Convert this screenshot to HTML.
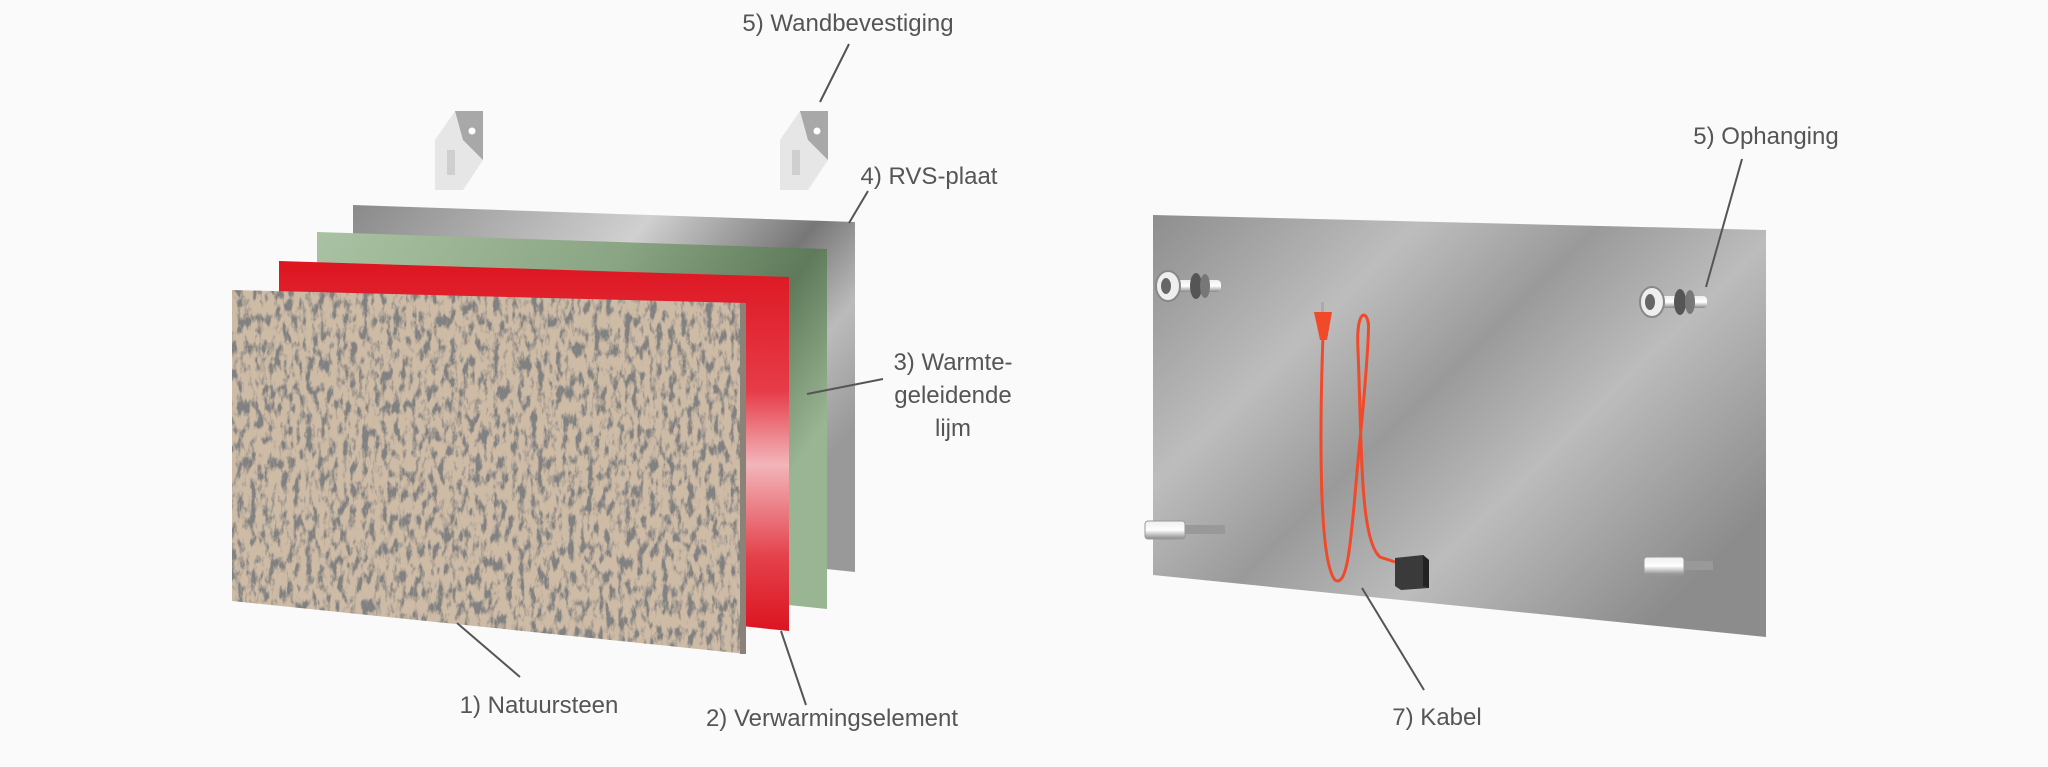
<!DOCTYPE html>
<html><head><meta charset="utf-8"><style>
html,body{margin:0;padding:0;background:#fafafa}
svg{display:block}
text{font-family:"Liberation Sans",sans-serif;font-size:24px;fill:#555}
</style></head><body>
<svg width="2048" height="767" viewBox="0 0 2048 767" xmlns="http://www.w3.org/2000/svg">
<defs>
<linearGradient id="steel" x1="0" y1="0" x2="1" y2="0.6">
<stop offset="0" stop-color="#8a8a8a"/><stop offset="0.45" stop-color="#d0d0d0"/><stop offset="0.7" stop-color="#777"/><stop offset="0.85" stop-color="#bbb"/><stop offset="1" stop-color="#999"/></linearGradient>
<linearGradient id="green" x1="0" y1="0" x2="1" y2="0.5">
<stop offset="0" stop-color="#a9c2a3"/><stop offset="0.5" stop-color="#8aa583"/><stop offset="0.8" stop-color="#5f7a5a"/><stop offset="1" stop-color="#9ab593"/></linearGradient>
<linearGradient id="red" x1="0" y1="0" x2="0" y2="1">
<stop offset="0" stop-color="#dd1520"/><stop offset="0.35" stop-color="#e63c48"/><stop offset="0.55" stop-color="#f2b5ba"/><stop offset="0.8" stop-color="#e4414b"/><stop offset="1" stop-color="#dc1420"/></linearGradient>
<linearGradient id="plate" x1="0" y1="0" x2="1" y2="0.7">
<stop offset="0" stop-color="#8e8e8e"/><stop offset="0.3" stop-color="#bdbdbd"/><stop offset="0.5" stop-color="#9a9a9a"/><stop offset="0.7" stop-color="#bcbcbc"/><stop offset="1" stop-color="#8c8c8c"/></linearGradient>
<filter id="granite" x="0" y="0" width="1" height="1">
<feTurbulence type="fractalNoise" baseFrequency="0.16 0.07" numOctaves="4" seed="4" result="n"/>
<feColorMatrix in="n" type="matrix" values="0 0 0 0 0.22  0 0 0 0 0.22  0 0 0 0 0.22  -4.5 0 0 0 2.45" result="dark"/>
<feComposite in="dark" in2="SourceGraphic" operator="atop"/>
</filter>
<linearGradient id="bolt" x1="0" y1="0" x2="0" y2="1"><stop offset="0" stop-color="#eee"/><stop offset="0.5" stop-color="#fff"/><stop offset="1" stop-color="#888"/></linearGradient>
</defs>

<!-- left stack -->
<polygon points="353,205 855,222 855,572 353,520" fill="url(#steel)"/>
<polygon points="317,232 827,249 827,609 317,556" fill="url(#green)"/>
<polygon points="279,261 789,277 789,631 279,578" fill="url(#red)"/>
<polygon points="232,290 746,303 746,654 232,601" fill="#cdbba6" filter="url(#granite)"/>
<polygon points="740,303 746,303 746,654 740,654" fill="#8a8278"/>

<!-- brackets -->
<g>
<polygon points="435,140 455,111 483,111 483,160 463,190 435,190" fill="#e6e6e6"/>
<polygon points="455,111 483,111 483,160 463,140" fill="#a8a8a8"/>
<polygon points="447,150 455,150 455,175 447,175" fill="#cfcfcf"/>
<circle cx="472" cy="131" r="3.5" fill="#fff"/>
<polygon points="780,140 800,111 828,111 828,160 808,190 780,190" fill="#e6e6e6"/>
<polygon points="800,111 828,111 828,160 808,140" fill="#a8a8a8"/>
<polygon points="792,150 800,150 800,175 792,175" fill="#cfcfcf"/>
<circle cx="817" cy="131" r="3.5" fill="#fff"/>
</g>

<!-- right plate -->
<polygon points="1153,215 1766,230 1766,637 1153,575" fill="url(#plate)"/>
<!-- bolts -->
<g>
<rect x="1175" y="280" width="46" height="12" rx="4" fill="url(#bolt)"/>
<ellipse cx="1196" cy="286" rx="6" ry="13" fill="#555"/><ellipse cx="1205" cy="286" rx="5" ry="12" fill="#777"/>
<ellipse cx="1168" cy="286" rx="12" ry="15" fill="#eee" stroke="#888" stroke-width="2"/><ellipse cx="1166" cy="286" rx="5" ry="8" fill="#666"/>
<rect x="1659" y="296" width="48" height="12" rx="4" fill="url(#bolt)"/>
<ellipse cx="1680" cy="302" rx="6" ry="13" fill="#555"/><ellipse cx="1690" cy="302" rx="5" ry="12" fill="#777"/>
<ellipse cx="1652" cy="302" rx="12" ry="15" fill="#eee" stroke="#888" stroke-width="2"/><ellipse cx="1650" cy="302" rx="5" ry="8" fill="#666"/>
<rect x="1145" y="521" width="40" height="18" rx="3" fill="url(#bolt)" stroke="#999"/>
<rect x="1185" y="525" width="40" height="9" fill="#999"/>
<rect x="1644" y="557" width="40" height="18" rx="3" fill="url(#bolt)" stroke="#999"/>
<rect x="1684" y="561" width="29" height="9" fill="#999"/>
</g>
<!-- cable -->
<path d="M1323,335 C1320,420 1318,560 1335,580 C1350,590 1352,520 1360,440 C1366,380 1370,320 1368,322 C1366,310 1356,310 1358,350 C1362,450 1360,540 1380,557 L1395,562" fill="none" stroke="#f04a2a" stroke-width="3"/>
<path d="M1314,312 L1332,312 L1327,340 L1320,340 Z" fill="#f04a2a"/>
<rect x="1321" y="302" width="3" height="10" fill="#aaa"/>
<polygon points="1395,558 1423,555 1429,560 1429,588 1401,590 1395,586" fill="#3a3a3a"/>
<polygon points="1423,555 1429,560 1429,588 1423,586" fill="#222"/>

<!-- leader lines -->
<g stroke="#555" stroke-width="2" fill="none">
<line x1="849" y1="44" x2="820" y2="102"/>
<line x1="868" y1="191" x2="849" y2="223"/>
<line x1="883" y1="379" x2="807" y2="394"/>
<line x1="520" y1="677" x2="457" y2="623"/>
<line x1="806" y1="705" x2="781" y2="631"/>
<line x1="1742" y1="159" x2="1706" y2="287"/>
<line x1="1424" y1="690" x2="1362" y2="588"/>
</g>
<!-- labels -->
<g text-anchor="middle">
<text x="848" y="31">5) Wandbevestiging</text>
<text x="929" y="184">4) RVS-plaat</text>
<text x="953" y="370">3) Warmte-</text>
<text x="953" y="403">geleidende</text>
<text x="953" y="436">lijm</text>
<text x="539" y="713">1) Natuursteen</text>
<text x="832" y="726">2) Verwarmingselement</text>
<text x="1766" y="144">5) Ophanging</text>
<text x="1437" y="725">7) Kabel</text>
</g>
</svg>
</body></html>
